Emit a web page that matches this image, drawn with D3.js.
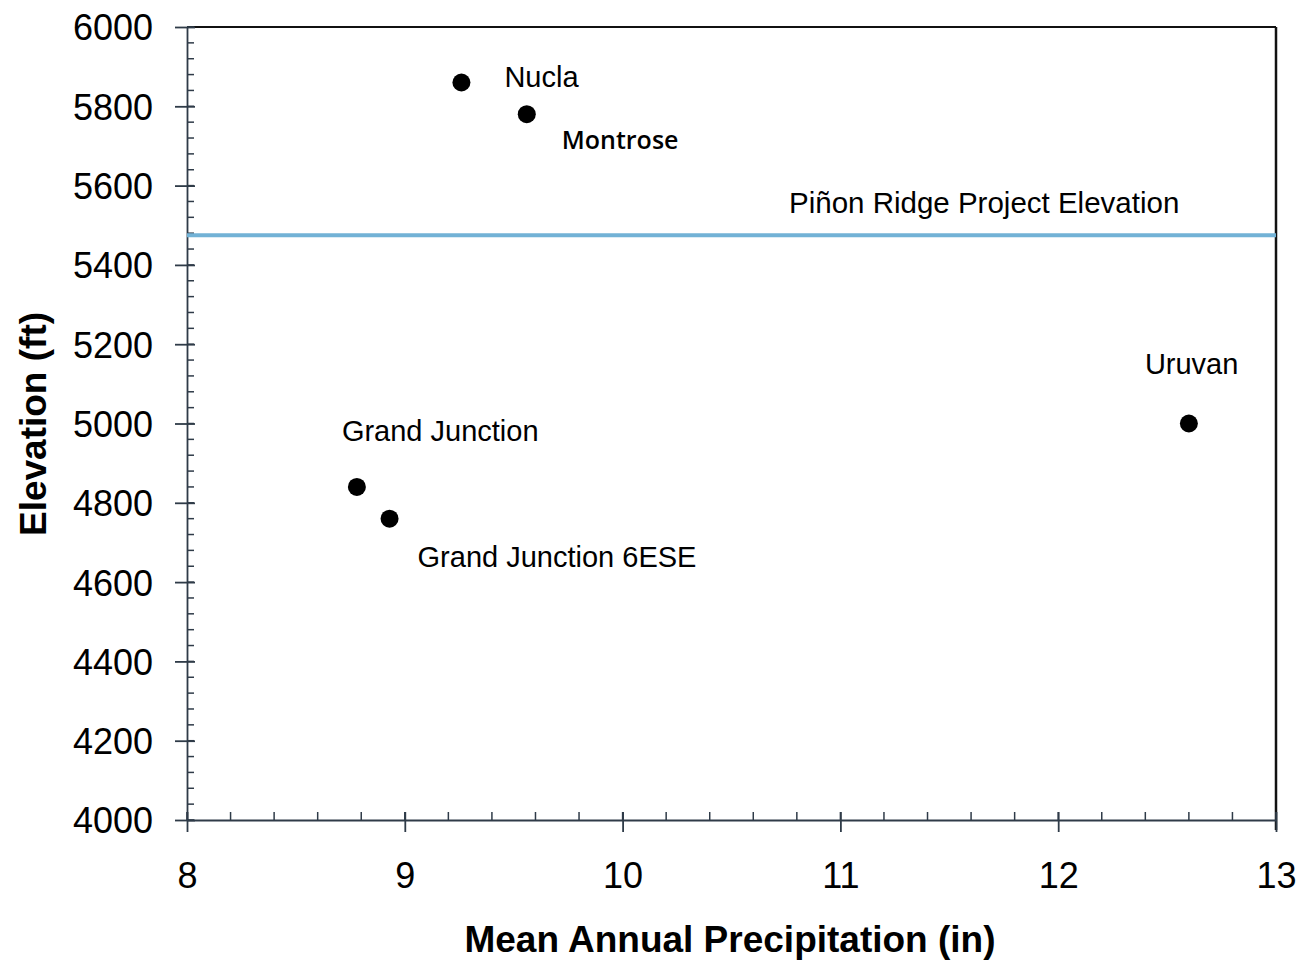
<!DOCTYPE html>
<html lang="en">
	<head>
		<meta charset="utf-8">
		<title>Elevation vs Mean Annual Precipitation</title>
		<script type="text/javascript" src="https://cdn.jsdelivr.net/npm/d3@7"></script>
		<style type="text/css">
			body { margin: 0; background: #fff; }
			text { font-family: Arial, "Liberation Sans", sans-serif; fill: #000; }
		</style>
	</head>
	<body>
		<script type="text/javascript">
			//Station data
			var stations = ["Nucla", "Montrose", "Grand Junction", "Grand Junction 6ESE", "Uruvan"];
			var precip = [9.26, 9.56, 8.78, 8.93, 12.60];
			var elevation = [5860, 5780, 4840, 4760, 5000];

			//Project elevation reference line
			var projectLabel = "Piñon Ridge Project Elevation";
			var projectElevation = 5475;

			//Ticks
			var xTicks = [8, 9, 10, 11, 12, 13];
			var yTicks = [4000, 4200, 4400, 4600, 4800, 5000, 5200, 5400, 5600, 5800, 6000];

			//Label offsets (pixels from the point)
			var labelDx = [43, 35, -15, 28, -44];
			var labelDy = [4, 35, -46, 48, -50];

			var w = 1300;
			var h = 963;
			var mLeft = 187, mRight = 1276, mTop = 27, mBottom = 820;

			var x = d3.scaleLinear().domain([8, 13]).range([mLeft, mRight]);
			var y = d3.scaleLinear().domain([4000, 6000]).range([mBottom, mTop]);

			var svg = d3.select("body")
						.append("svg")
						.attr("width", w)
						.attr("height", h);

			//Frame top and right
			svg.append("line")
			   .attr("x1", mLeft).attr("x2", mRight)
			   .attr("y1", mTop).attr("y2", mTop)
			   .style("stroke", "#111").style("stroke-width", 2);
			svg.append("line")
			   .attr("x1", mRight).attr("x2", mRight)
			   .attr("y1", mTop).attr("y2", mBottom + 10)
			   .style("stroke", "#111").style("stroke-width", 2.5);

			//Minor ticks
			var xMinor = d3.range(8, 13.001, 0.2);
			var yMinor = d3.range(4000, 6001, 40);
			svg.selectAll(".xminor")
			   .data(xMinor)
			   .enter()
			   .append("line")
			   .attr("x1", function(d) { return x(d); })
			   .attr("x2", function(d) { return x(d); })
			   .attr("y1", mBottom)
			   .attr("y2", mBottom - 8)
			   .style("stroke", "#2f3b48").style("stroke-width", 1.5);
			svg.selectAll(".yminor")
			   .data(yMinor)
			   .enter()
			   .append("line")
			   .attr("x1", mLeft)
			   .attr("x2", mLeft + 7)
			   .attr("y1", function(d) { return y(d); })
			   .attr("y2", function(d) { return y(d); })
			   .style("stroke", "#2f3b48").style("stroke-width", 1.5);

			//Axes
			var xAxis = d3.axisBottom(x).tickValues(xTicks).tickSizeInner(12).tickSizeOuter(0).tickPadding(26).tickFormat(d3.format("d"));
			var yAxis = d3.axisLeft(y).tickValues(yTicks).tickSizeInner(12).tickSizeOuter(0).tickPadding(22).tickFormat(d3.format("d"));

			var gx = svg.append("g")
						.attr("transform", "translate(0," + mBottom + ")")
						.call(xAxis);
			var gy = svg.append("g")
						.attr("transform", "translate(" + mLeft + ",0)")
						.call(yAxis);

			[gx, gy].forEach(function(g) {
				g.select(".domain").style("stroke", "#2f3b48").style("stroke-width", 1.8);
				g.selectAll(".tick line").style("stroke", "#2f3b48").style("stroke-width", 1.8);
				g.selectAll(".tick text")
				 .style("font-family", "Arial, 'Liberation Sans', sans-serif")
				 .style("font-size", "36px")
				 .style("fill", "#000");
			});
			gx.selectAll(".tick line").attr("y1", -8);
			gy.selectAll(".tick line").attr("x1", 8);
			gx.selectAll(".tick text").attr("dy", "0.82em");
			gy.selectAll(".tick text").attr("dy", "0.36em");

			//Project elevation line
			svg.append("line")
			   .attr("x1", mLeft)
			   .attr("x2", mRight)
			   .attr("y1", y(projectElevation))
			   .attr("y2", y(projectElevation))
			   .style("stroke", "#72b2d6")
			   .style("stroke-width", 4);
			svg.append("text")
			   .attr("x", 789)
			   .attr("y", y(projectElevation) - 22)
			   .style("font-size", "29.5px")
			   .text(projectLabel);

			//Points
			svg.selectAll("circle")
			   .data(stations)
			   .enter()
			   .append("circle")
			   .attr("cx", function(d, i) { return x(precip[i]); })
			   .attr("cy", function(d, i) { return y(elevation[i]); })
			   .attr("r", 9)
			   .style("fill", "#000");

			svg.selectAll(".label")
			   .data(stations)
			   .enter()
			   .append("text")
			   .attr("class", "label")
			   .attr("x", function(d, i) { return x(precip[i]) + labelDx[i]; })
			   .attr("y", function(d, i) { return y(elevation[i]) + labelDy[i]; })
			   .style("font-size", function(d) { return d === "Montrose" ? "25px" : "29px"; })
			   .style("font-family", function(d) { return d === "Montrose" ? "'Open Sans', sans-serif" : null; })
			   .style("font-weight", function(d) { return d === "Montrose" ? 600 : null; })
			   .text(function(d) { return d; });

			//Axis titles
			svg.append("text")
			   .attr("x", 730)
			   .attr("y", 952)
			   .attr("text-anchor", "middle")
			   .style("font-size", "37px")
			   .style("font-weight", "bold")
			   .text("Mean Annual Precipitation (in)");

			svg.append("text")
			   .attr("transform", "translate(46,424) rotate(-90)")
			   .attr("text-anchor", "middle")
			   .style("font-size", "37px")
			   .style("font-weight", "bold")
			   .text("Elevation (ft)");
		</script>
	</body>
</html>
